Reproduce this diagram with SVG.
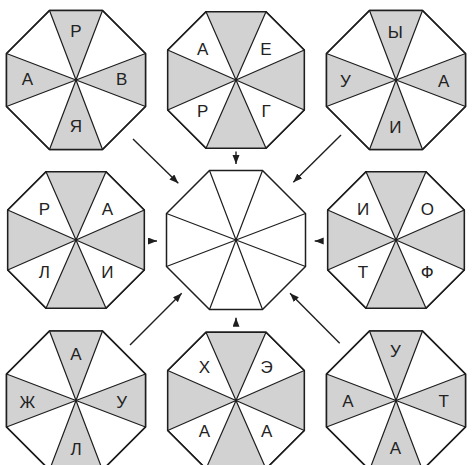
<svg xmlns="http://www.w3.org/2000/svg" xmlns:xlink="http://www.w3.org/1999/xlink" width="473" height="465" viewBox="0 0 473 465">
<style>
.oct{fill:#fff;stroke:#1e1e1e;stroke-width:1.5;stroke-linejoin:miter}
.gray{fill:#d2d2d2;stroke:none}
.spoke{fill:none;stroke:#1e1e1e;stroke-width:1.2}
.lbl{font-family:"Liberation Sans",Arial,sans-serif;font-size:17px;fill:#222;text-anchor:middle}
.conn{fill:none;stroke:#1e1e1e;stroke-width:1.4}
</style>
<defs>
<marker id="ah" markerUnits="userSpaceOnUse" markerWidth="10" markerHeight="8" refX="9" refY="3.5" orient="auto">
<path d="M0,0 L9,3.5 L0,7 Z" fill="#1e1e1e"/>
</marker>
<g id="octA">
<polygon class="oct" points="-26.5,-69.5 26.5,-69.5 69.5,-26.5 69.5,26.5 26.5,69.5 -26.5,69.5 -69.5,26.5 -69.5,-26.5"/>
<path class="gray" d="M0,0 L-26.5,-69.5 L26.5,-69.5 Z M0,0 L69.5,-26.5 L69.5,26.5 Z M0,0 L26.5,69.5 L-26.5,69.5 Z M0,0 L-69.5,26.5 L-69.5,-26.5 Z"/>
<path class="spoke" d="M-26.5,-69.5 L26.5,69.5 M26.5,-69.5 L-26.5,69.5 M69.5,-26.5 L-69.5,26.5 M69.5,26.5 L-69.5,-26.5"/>
<polygon class="oct" style="fill:none" points="-26.5,-69.5 26.5,-69.5 69.5,-26.5 69.5,26.5 26.5,69.5 -26.5,69.5 -69.5,26.5 -69.5,-26.5"/>
</g>
<g id="octB">
<polygon class="oct" points="-30,-68.3 30,-68.3 68.3,-30 68.3,30 30,68.3 -30,68.3 -68.3,30 -68.3,-30"/>
<path class="gray" d="M0,0 L-30,-68.3 L30,-68.3 Z M0,0 L68.3,-30 L68.3,30 Z M0,0 L30,68.3 L-30,68.3 Z M0,0 L-68.3,30 L-68.3,-30 Z"/>
<path class="spoke" d="M-30,-68.3 L30,68.3 M30,-68.3 L-30,68.3 M68.3,-30 L-68.3,30 M68.3,30 L-68.3,-30"/>
<polygon class="oct" style="fill:none" points="-30,-68.3 30,-68.3 68.3,-30 68.3,30 30,68.3 -30,68.3 -68.3,30 -68.3,-30"/>
</g>
</defs>

<g id="oct-top-left">
<use xlink:href="#octA" href="#octA" transform="translate(76,80)"/>
<text class="lbl" x="76" y="36.5">Р</text>
<text class="lbl" x="27.3" y="85">А</text>
<text class="lbl" x="121.7" y="85">В</text>
<text class="lbl" x="76" y="131.7">Я</text>
</g>

<g id="oct-top-middle">
<use xlink:href="#octB" href="#octB" transform="translate(236,80)"/>
<text class="lbl" x="202.7" y="55">А</text>
<text class="lbl" x="266" y="55">Е</text>
<text class="lbl" x="202.7" y="116.7">Р</text>
<text class="lbl" x="266" y="116.7">Г</text>
</g>

<g id="oct-top-right">
<use xlink:href="#octA" href="#octA" transform="translate(396,80)"/>
<text class="lbl" x="395.3" y="38.3">Ы</text>
<text class="lbl" x="345.3" y="86.7">У</text>
<text class="lbl" x="443.7" y="86.7">А</text>
<text class="lbl" x="395.3" y="133.3">И</text>
</g>

<g id="oct-middle-left">
<use xlink:href="#octB" href="#octB" transform="translate(76,240)"/>
<text class="lbl" x="44.3" y="215">Р</text>
<text class="lbl" x="107.3" y="215">А</text>
<text class="lbl" x="44.3" y="278.3">Л</text>
<text class="lbl" x="107.3" y="278.3">И</text>
</g>

<g id="oct-center">
<polygon class="oct" points="209.5,170.5 262.5,170.5 305.5,213.5 305.5,266.5 262.5,309.5 209.5,309.5 166.5,266.5 166.5,213.5"/>
<path class="spoke" d="M209.5,170.5 L262.5,309.5 M262.5,170.5 L209.5,309.5 M305.5,213.5 L166.5,266.5 M305.5,266.5 L166.5,213.5"/>
</g>

<g id="oct-middle-right">
<use xlink:href="#octB" href="#octB" transform="translate(396,240)"/>
<text class="lbl" x="363" y="215">И</text>
<text class="lbl" x="427.3" y="215">О</text>
<text class="lbl" x="363" y="278.3">Т</text>
<text class="lbl" x="427.3" y="278.3">Ф</text>
</g>

<g id="oct-bottom-left">
<use xlink:href="#octA" href="#octA" transform="translate(76,400.5)"/>
<text class="lbl" x="76" y="360">А</text>
<text class="lbl" x="27.3" y="408.3">Ж</text>
<text class="lbl" x="121.7" y="408.3">У</text>
<text class="lbl" x="76" y="455">Л</text>
</g>

<g id="oct-bottom-middle">
<use xlink:href="#octB" href="#octB" transform="translate(236,400.5)"/>
<text class="lbl" x="204.3" y="373.3">Х</text>
<text class="lbl" x="266.7" y="373.3">Э</text>
<text class="lbl" x="204.3" y="436.7">А</text>
<text class="lbl" x="266.7" y="436.7">А</text>
</g>

<g id="oct-bottom-right">
<use xlink:href="#octA" href="#octA" transform="translate(396,400.5)"/>
<text class="lbl" x="395.3" y="356.7">У</text>
<text class="lbl" x="348" y="406.7">А</text>
<text class="lbl" x="443.7" y="406.7">Т</text>
<text class="lbl" x="395.3" y="454">А</text>
</g>

<g id="connectors">
<line class="conn" marker-end="url(#ah)" x1="133" y1="139" x2="178.3" y2="183.3"/>
<line class="conn" marker-end="url(#ah)" x1="236" y1="151.5" x2="236" y2="164"/>
<line class="conn" marker-end="url(#ah)" x1="341" y1="135" x2="293.3" y2="182.3"/>
<line class="conn" marker-end="url(#ah)" x1="149" y1="241" x2="157" y2="241"/>
<line class="conn" marker-end="url(#ah)" x1="322.5" y1="241" x2="314.7" y2="241"/>
<line class="conn" marker-end="url(#ah)" x1="236" y1="326" x2="236" y2="317.7"/>
<line class="conn" marker-end="url(#ah)" x1="130" y1="345" x2="181.7" y2="293.3"/>
<line class="conn" marker-end="url(#ah)" x1="339.7" y1="343.3" x2="290" y2="293.3"/>
</g>
</svg>
